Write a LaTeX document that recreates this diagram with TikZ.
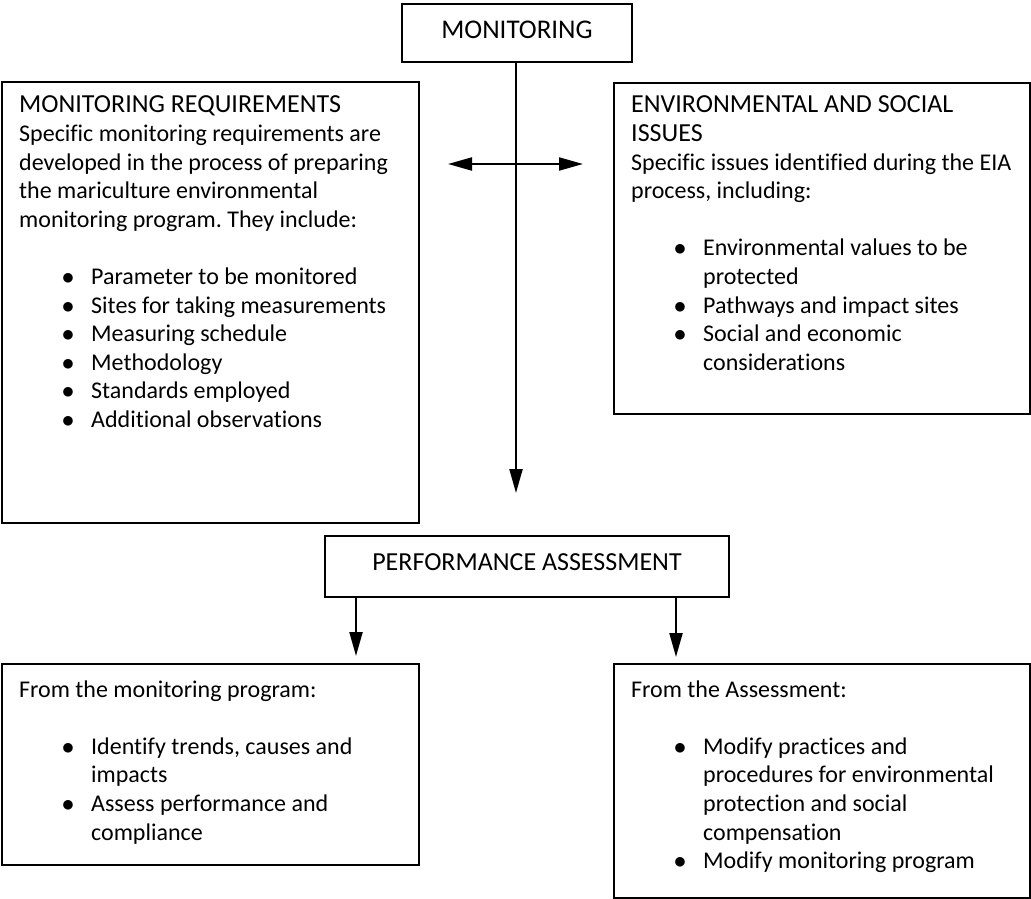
\documentclass[tikz,border=0pt]{standalone}
\usepackage{fontspec}
\setmainfont[Ligatures=NoCommon]{Carlito}
\usetikzlibrary{arrows.meta}

% bulleted list with fixed indents
\newenvironment{bulletlist}{\begin{list}{$\bullet$}{%
  \setlength\leftmargin{72pt}\setlength\labelwidth{30pt}\setlength\labelsep{17pt}%
  \setlength\topsep{0pt}\setlength\partopsep{0pt}\setlength\itemsep{0pt}%
  \setlength\parsep{0pt}\setlength\listparindent{0pt}}}{\end{list}}
\newcommand\capsfont{\fontsize{26}{28.6}\selectfont}
\newcommand\skipline{\par\vspace{28.6pt}}
\newcommand\boxtext[1]{\begin{minipage}[t]{395pt}\raggedright\frenchspacing #1\end{minipage}}

\tikzset{
  Head/.tip={Triangle[length=24pt,width=13pt]},
  box/.style={draw, line width=2.2pt, inner sep=0pt},
  body/.style={inner sep=0pt, anchor=base west},
  conn/.style={line width=2.2pt},
}

\begin{document}
\begin{tikzpicture}[x=1pt, y=-1pt, font=\fontsize{24}{28.6}\selectfont]
\useasboundingbox (0,0) rectangle (1031,899);

% title and central assessment boxes
\node[box, minimum width=230pt, minimum height=58pt, font=\fontsize{27}{30}\selectfont,
      text height=17.4pt, text depth=5.4pt] (mon) at (517,33) {MONITORING};
\node[box, minimum width=404pt, minimum height=61pt, font=\capsfont,
      text height=16.7pt, text depth=9.7pt] (pa) at (527,566.5) {PERFORMANCE ASSESSMENT};

% frames of the four description boxes
\node[box, anchor=north west, minimum width=417pt, minimum height=441pt] (req) at (1.2,81) {};
\node[box, anchor=north west, minimum width=416pt, minimum height=331pt] (env) at (613,82) {};
\node[box, anchor=north west, minimum width=417pt, minimum height=201pt] (bl) at (1.2,663) {};
\node[box, anchor=north west, minimum width=416pt, minimum height=234pt] (br) at (613,663) {};

% box contents
\node[body] (reqtext) at (19,113) {\boxtext{%
  {\capsfont MONITORING REQUIREMENTS}\\
  Specific monitoring requirements are\\
  developed in the process of preparing\\
  the mariculture environmental\\
  monitoring program. They include:
  \skipline
  \begin{bulletlist}
  \item Parameter to be monitored
  \item Sites for taking measurements
  \item Measuring schedule
  \item Methodology
  \item Standards employed
  \item Additional observations
  \end{bulletlist}}};

\node[body] (envtext) at (631,113) {\boxtext{%
  {\capsfont ENVIRONMENTAL AND SOCIAL\\ ISSUES}\\
  Specific issues identified during the EIA\\
  process, including:
  \skipline
  \begin{bulletlist}
  \item Environmental values to be\\ protected
  \item Pathways and impact sites
  \item Social and economic\\ considerations
  \end{bulletlist}}};

\node[body] (bltext) at (19,697) {\boxtext{%
  From the monitoring program:
  \skipline
  \begin{bulletlist}
  \item Identify trends, causes and\\ impacts
  \item Assess performance and\\ compliance
  \end{bulletlist}}};

\node[body] (brtext) at (631,697) {\boxtext{%
  From the Assessment:
  \skipline
  \begin{bulletlist}
  \item Modify practices and\\ procedures for environmental\\ protection and social\\ compensation
  \item Modify monitoring program
  \end{bulletlist}}};

% connectors
\coordinate (mtip) at (516,493);
\coordinate (hl) at (448,164);
\coordinate (hr) at (583,164);
\coordinate (la) at (356,656);
\coordinate (ra) at (676,657);

\draw[conn, -{Head}] (mon.south -| mtip) -- (mtip);
\draw[conn, {Head}-{Head}] (hl) -- (hr);
\draw[conn, -{Head}] (pa.south -| la) -- (la);
\draw[conn, -{Head}] (pa.south -| ra) -- (ra);
\end{tikzpicture}
\end{document}
